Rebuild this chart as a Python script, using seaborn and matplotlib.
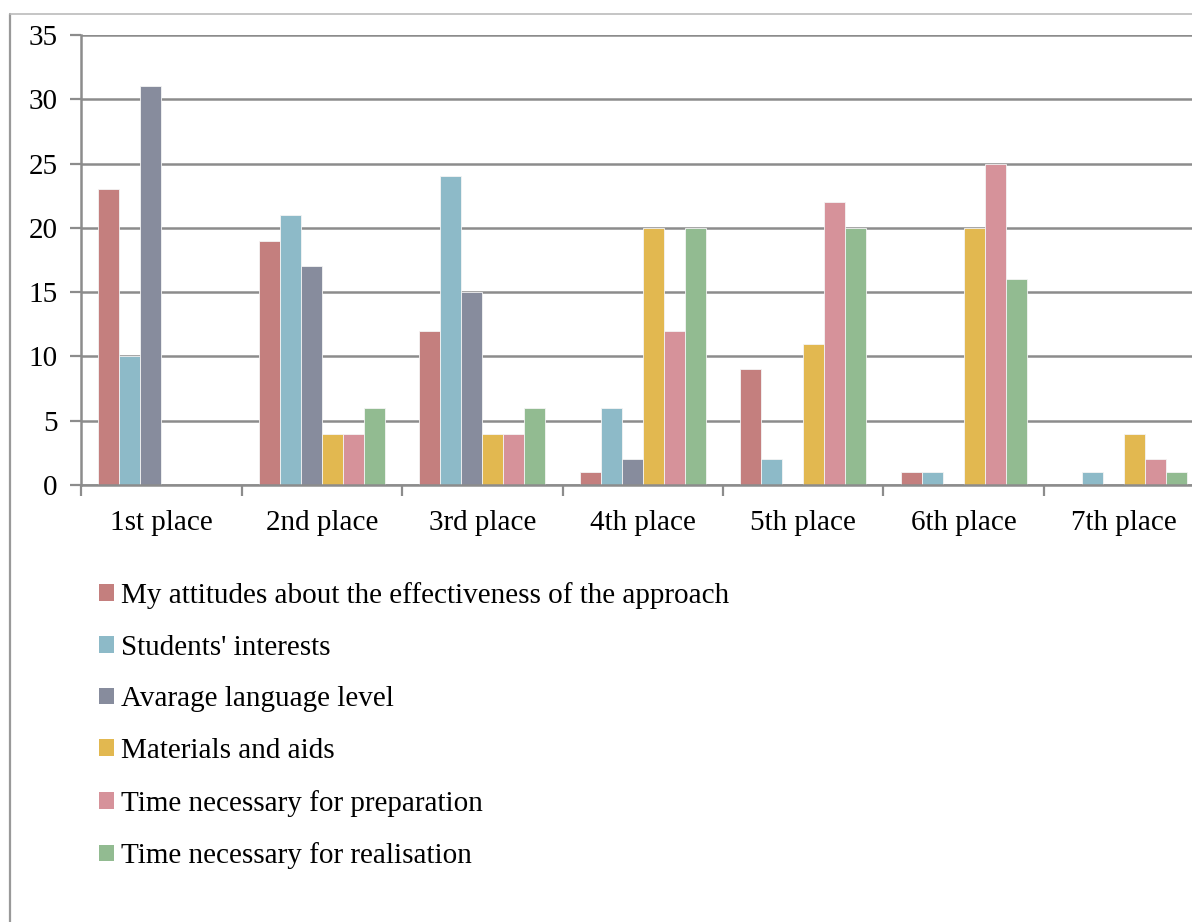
import pandas as pd
import matplotlib.pyplot as plt
import seaborn as sns
from matplotlib.patches import Patch
from matplotlib.lines import Line2D

# Data
places = ['1st place', '2nd place', '3rd place', '4th place', '5th place', '6th place', '7th place']
factors = ['My attitudes about the effectiveness of the approach', "Students' interests",
           'Avarage language level', 'Materials and aids',
           'Time necessary for preparation', 'Time necessary for realisation']
attitudes = [23, 19, 12, 1, 9, 1, 0]
interests = [10, 21, 24, 6, 2, 1, 1]
language = [31, 17, 15, 2, 0, 0, 0]
materials = [0, 4, 4, 20, 11, 20, 4]
preparation = [0, 4, 4, 12, 22, 25, 2]
realisation = [0, 6, 6, 20, 20, 16, 1]
colors = ['#C47F7E', '#8DBAC8', '#878C9D', '#E2B850', '#D6929A', '#92BB91']

series = [attitudes, interests, language, materials, preparation, realisation]
rows = []
for f, vals in zip(factors, series):
    for p, v in zip(places, vals):
        rows.append({'place': p, 'factor': f, 'count': v})
df = pd.DataFrame(rows)

sns.set_style('white')
plt.rcParams['font.family'] = ['Liberation Serif', 'DejaVu Serif']
plt.rcParams['text.color'] = 'black'
plt.rcParams['xtick.color'] = 'black'
plt.rcParams['ytick.color'] = 'black'

fig = plt.figure(figsize=(11.92, 9.22), dpi=100)
ax = fig.add_axes([81 / 1192, 437 / 922, 1123.5 / 1192, 450 / 922])

sns.barplot(data=df, x='place', y='count', hue='factor', palette=colors, width=0.785,
            saturation=1, edgecolor='#f4f4f4', linewidth=0.6, legend=False, ax=ax, zorder=3)

grid_c = '#8c8c8c'
fs = 21
ax.set_ylim(0, 35)
ax.set_yticks(range(0, 36, 5))
ax.set_xlim(-0.5, 6.5)
ax.set_xticks(range(7))
ax.set_xticks([i - 0.5 for i in range(8)], minor=True)
ax.grid(axis='y', color=grid_c, linewidth=1.8, zorder=0)
ax.set_axisbelow(True)
ax.tick_params(axis='x', which='major', bottom=True, length=0, pad=18, labelsize=fs,
               labelcolor='black')
ax.tick_params(axis='x', which='minor', bottom=True, length=8, width=1.6, color=grid_c,
               direction='out')
ax.tick_params(axis='y', left=True, length=8, width=1.6, color=grid_c, direction='out',
               pad=9, labelsize=fs, labelcolor='black')
ax.set_xlabel('')
ax.set_ylabel('')
for s in ['top', 'right']:
    ax.spines[s].set_visible(False)
for s in ['left', 'bottom']:
    ax.spines[s].set_color(grid_c)
    ax.spines[s].set_linewidth(1.8)
    ax.spines[s].set_zorder(4)

handles = [Patch(facecolor=c, edgecolor='none') for c in colors]
fig.legend(handles, factors, loc='upper left', bbox_to_anchor=(99 / 1192, 1 - 582 / 922),
           frameon=False, fontsize=fs, handlelength=0.5, handleheight=0.5,
           handletextpad=0.25, labelspacing=0.88, borderaxespad=0, borderpad=0)

# outer frame of the chart area
fig.add_artist(Line2D([10 / 1192, 10 / 1192], [0, 1 - 14 / 922], color='#999999', linewidth=1.6))
fig.add_artist(Line2D([10 / 1192, 1], [1 - 14 / 922, 1 - 14 / 922], color='#bbbbbb', linewidth=1.2))

fig.savefig('out.png', dpi=100)
